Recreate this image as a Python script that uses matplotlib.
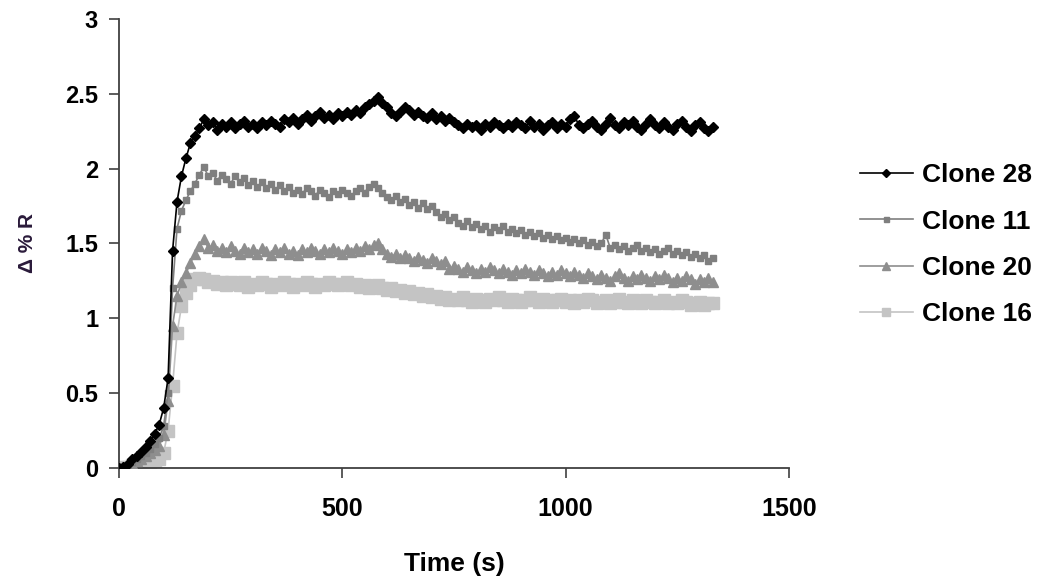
import numpy as np
import matplotlib
matplotlib.use("Agg")
import matplotlib.pyplot as plt

plt.rcParams['font.family'] = ['Liberation Sans', 'DejaVu Sans']

# sampling times (s)
time_s = np.arange(0, 1340, 10)

clone28 = [
    0.00, 0.01, 0.03, 0.06, 0.08, 0.11, 0.14, 0.18, 0.23, 0.29,
    0.40, 0.60, 1.45, 1.78, 1.95, 2.07, 2.17, 2.22, 2.27, 2.33,
    2.29, 2.31, 2.26, 2.30, 2.28, 2.31, 2.27, 2.30, 2.32, 2.28,
    2.30, 2.27, 2.31, 2.29, 2.32, 2.30, 2.28, 2.33, 2.31, 2.34,
    2.30, 2.33, 2.36, 2.32, 2.35, 2.38, 2.34, 2.36, 2.33, 2.37,
    2.35, 2.38, 2.36, 2.39, 2.37, 2.41, 2.43, 2.45, 2.48, 2.44,
    2.41, 2.37, 2.35, 2.38, 2.41, 2.39, 2.36, 2.38, 2.35, 2.34,
    2.37, 2.33, 2.35, 2.32, 2.34, 2.31, 2.29, 2.27, 2.30, 2.28,
    2.29, 2.26, 2.30, 2.28, 2.31, 2.29, 2.27, 2.30, 2.28, 2.31,
    2.29, 2.27, 2.32, 2.28, 2.30, 2.26, 2.29, 2.31, 2.27, 2.30,
    2.28, 2.33, 2.35, 2.29, 2.27, 2.30, 2.32, 2.28, 2.26, 2.30,
    2.34, 2.29, 2.27, 2.31, 2.29, 2.32, 2.28, 2.26, 2.30, 2.33,
    2.29, 2.27, 2.31, 2.28, 2.26, 2.30, 2.32, 2.28, 2.25, 2.29,
    2.31, 2.27, 2.25, 2.28,
]

clone11 = [
    0.00, 0.01, 0.02, 0.04, 0.06, 0.08, 0.10, 0.13, 0.16, 0.20,
    0.28, 0.50, 1.20, 1.60, 1.72, 1.79, 1.85, 1.90, 1.96, 2.01,
    1.95, 1.97, 1.92, 1.96, 1.93, 1.90, 1.95, 1.91, 1.94, 1.89,
    1.92, 1.88, 1.91, 1.87, 1.90, 1.86, 1.89, 1.85, 1.88, 1.84,
    1.86, 1.83, 1.87, 1.85, 1.82, 1.86, 1.84, 1.81, 1.85, 1.83,
    1.86, 1.84, 1.82, 1.85, 1.87, 1.84, 1.88, 1.90, 1.87, 1.84,
    1.81, 1.79, 1.82, 1.78, 1.80, 1.76, 1.78, 1.74, 1.77, 1.73,
    1.75, 1.71, 1.68, 1.70, 1.66, 1.68, 1.64, 1.62, 1.65, 1.61,
    1.63, 1.60, 1.62, 1.58, 1.61, 1.59, 1.62, 1.58, 1.60, 1.57,
    1.59, 1.56, 1.58, 1.55, 1.57, 1.54, 1.56, 1.53, 1.55, 1.52,
    1.54, 1.51, 1.53, 1.50, 1.52, 1.49, 1.51, 1.48, 1.50, 1.56,
    1.47, 1.49, 1.46, 1.48, 1.45, 1.47, 1.49, 1.45, 1.47, 1.44,
    1.46, 1.43, 1.45, 1.47, 1.43, 1.45, 1.42, 1.44, 1.41, 1.43,
    1.40, 1.42, 1.38, 1.40,
]

clone20 = [
    0.00, 0.01, 0.02, 0.03, 0.05, 0.06, 0.08, 0.10, 0.12, 0.15,
    0.22, 0.45, 0.95, 1.15, 1.24, 1.30, 1.37, 1.43, 1.48, 1.53,
    1.47, 1.49, 1.45, 1.47, 1.44, 1.48, 1.45, 1.43, 1.47, 1.44,
    1.46, 1.43, 1.47, 1.45, 1.42, 1.46, 1.44, 1.47, 1.43, 1.45,
    1.42, 1.46, 1.44, 1.47, 1.45, 1.43, 1.46, 1.44, 1.47, 1.45,
    1.43, 1.46, 1.44, 1.47, 1.45, 1.48, 1.46, 1.49, 1.50, 1.46,
    1.43, 1.41, 1.43, 1.40, 1.42, 1.40, 1.38, 1.41, 1.39, 1.37,
    1.40, 1.38, 1.36, 1.38, 1.33, 1.35, 1.33, 1.31, 1.34, 1.32,
    1.30, 1.33, 1.31, 1.34, 1.32, 1.30, 1.33, 1.31, 1.29, 1.32,
    1.30, 1.33, 1.31, 1.29, 1.32, 1.30, 1.28, 1.31, 1.29, 1.32,
    1.30, 1.28, 1.31, 1.29, 1.27, 1.30, 1.28, 1.26, 1.29, 1.27,
    1.25, 1.28, 1.30, 1.27, 1.25, 1.28, 1.26, 1.29, 1.27, 1.25,
    1.28, 1.26, 1.29, 1.27, 1.24, 1.27, 1.25, 1.28, 1.26, 1.23,
    1.26, 1.24, 1.27, 1.24,
]

clone16 = [
    0.00, 0.01, 0.01, 0.02, 0.02, 0.03, 0.03, 0.04, 0.05, 0.06,
    0.10, 0.25, 0.55, 0.90, 1.08, 1.17, 1.22, 1.26, 1.27, 1.26,
    1.24, 1.25, 1.23, 1.24, 1.22, 1.24, 1.23, 1.22, 1.24, 1.21,
    1.23, 1.22, 1.24, 1.23, 1.21, 1.23, 1.22, 1.24, 1.23, 1.21,
    1.23, 1.22, 1.24, 1.23, 1.21, 1.23, 1.22, 1.24, 1.23, 1.22,
    1.23, 1.24, 1.22, 1.23, 1.21, 1.22, 1.20, 1.21, 1.22, 1.20,
    1.19, 1.20, 1.18, 1.19, 1.17, 1.18, 1.16, 1.17, 1.15, 1.16,
    1.14, 1.15, 1.13, 1.14, 1.12, 1.13, 1.12, 1.14, 1.12, 1.11,
    1.13, 1.12, 1.11, 1.13, 1.12, 1.14, 1.12, 1.11, 1.13, 1.12,
    1.11, 1.12, 1.14, 1.12, 1.11, 1.13, 1.12, 1.11, 1.12, 1.13,
    1.11, 1.12, 1.10, 1.12, 1.11, 1.13, 1.12, 1.10, 1.11, 1.12,
    1.10, 1.11, 1.13, 1.11, 1.10, 1.12, 1.11, 1.10, 1.12, 1.11,
    1.10, 1.11, 1.12, 1.10, 1.11, 1.10, 1.12, 1.11, 1.09, 1.10,
    1.11, 1.09, 1.10, 1.10,
]

series_names = ['Clone 28', 'Clone 11', 'Clone 20', 'Clone 16']

fig = plt.figure(figsize=(10.5, 5.87), dpi=100)
ax = fig.add_axes([0.1133, 0.2027, 0.638, 0.765])

ax.plot(time_s, clone28, color='black', lw=1.2, marker='D', ms=5.5, label=series_names[0], zorder=5)
ax.plot(time_s, clone11, color='#7f7f7f', lw=1.2, marker='s', ms=4.5, label=series_names[1], zorder=4)
ax.plot(time_s, clone20, color='#8e8e8e', lw=1.2, marker='^', ms=6.5, label=series_names[2], zorder=3)
ax.plot(time_s, clone16, color='#c4c4c4', lw=1.2, marker='s', ms=8, label=series_names[3], zorder=2)

ax.set_xlim(0, 1500)
ax.set_ylim(0, 3)
ax.set_xticks([0, 500, 1000, 1500])
ax.set_yticks([0, 0.5, 1, 1.5, 2, 2.5, 3])
ax.set_yticklabels(['0', '0.5', '1', '1.5', '2', '2.5', '3'])

for s in ['top', 'right']:
    ax.spines[s].set_visible(False)
for s in ['left', 'bottom']:
    ax.spines[s].set_color('#404040')
    ax.spines[s].set_linewidth(1.3)

ax.tick_params(direction='out', length=7, width=1.2, color='#404040')
ax.tick_params(axis='x', pad=14, labelsize=18)
ax.tick_params(axis='y', pad=8, labelsize=17)
for lab in ax.get_xticklabels() + ax.get_yticklabels():
    lab.set_fontweight('bold')

ax.set_xlabel('Time (s)', fontsize=19, fontweight='bold', labelpad=22)
ax.set_ylabel('Δ % R', fontsize=15, fontweight='bold', color='#2a1a3a', labelpad=20)

leg = ax.legend(loc='center left', bbox_to_anchor=(1.106, 0.497), frameon=False,
                prop={'size': 19, 'weight': 'bold'}, handlelength=2.0,
                handletextpad=0.35, borderaxespad=0, borderpad=0,
                labelspacing=0.85, markerscale=0.8)

fig.savefig('out.png', dpi=100)
